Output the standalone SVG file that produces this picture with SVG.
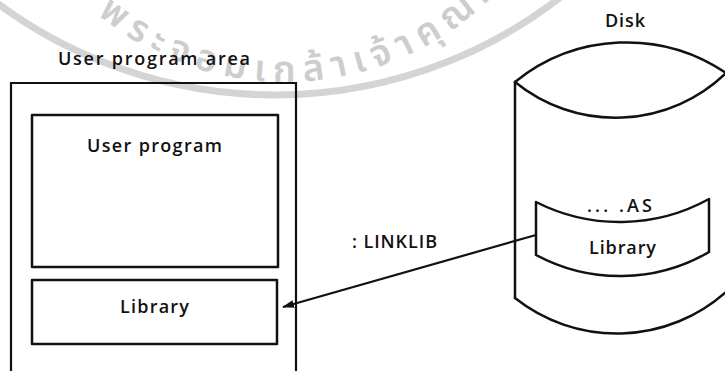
<svg xmlns="http://www.w3.org/2000/svg" width="725" height="371" viewBox="0 0 725 371">
  <style>
    .lbl { font-family: "Open Sans", "Liberation Sans", sans-serif; font-size: 18px; font-weight: 600; fill: #111; }
    .box { fill: none; stroke: #111; stroke-width: 2.5; stroke-linejoin: round; }
    .edge { fill: none; stroke: #111; stroke-width: 2.5; stroke-linecap: round; }
    .seal { fill: none; stroke: #d4d4d4; stroke-width: 7; }
    .sealtext { font-family: "Noto Sans Thai", "Noto Sans", "DejaVu Sans", sans-serif; font-size: 37px; font-weight: 600; fill: #cdcdcd; letter-spacing: 8px; }
  </style>
  <defs>
    <marker id="arrow" viewBox="0 0 12 8" refX="11" refY="4" markerWidth="12" markerHeight="8" markerUnits="userSpaceOnUse" orient="auto">
      <path d="M0,0 L12,4 L0,8 Z" fill="#111"/>
    </marker>
    <!-- lower half of the seal's lettering circle, centre (285,-212) -->
    <path id="sealArc" d="M-9,-212 A294,294 0 0 0 579,-212"/>
  </defs>

  <!-- faint seal in the background -->
  <g id="seal">
    <circle class="seal" cx="275" cy="-370" r="465"/>
    <text class="sealtext"><textPath href="#sealArc" startOffset="258">พระจอมเกล้าเจ้าคุณทหารลาดกระบัง</textPath></text>
  </g>

  <!-- memory layout -->
  <g id="user-program-area">
    <text class="lbl" x="58" y="65" textLength="192" lengthAdjust="spacing">User program area</text>
    <path d="M11,372 V83 H296 V372" fill="none" stroke="#111" stroke-width="2.2"/>
  </g>
  <g id="user-program">
    <rect class="box" x="32" y="115" width="246" height="152"/>
    <text class="lbl" x="87" y="152" textLength="135" lengthAdjust="spacing">User program</text>
  </g>
  <g id="library-loaded">
    <rect class="box" x="32" y="280" width="245" height="64"/>
    <text class="lbl" x="120" y="313" textLength="69" lengthAdjust="spacing">Library</text>
  </g>

  <!-- disk drum -->
  <g id="disk">
    <text class="lbl" x="605" y="27" textLength="40" lengthAdjust="spacing">Disk</text>
    <path class="edge" d="M515,82 A177,177 0 0 1 726,73"/>
    <path class="edge" d="M515,82 A159,159 0 0 0 726,73"/>
    <path class="edge" d="M515,82 V298"/>
    <path class="edge" d="M515,298 A164,164 0 0 0 726,292"/>
  </g>
  <g id="library-file">
    <path class="box" d="M536,202 A185,185 0 0 0 709,199 L709,252 A177,177 0 0 1 536,255 Z"/>
    <text class="lbl" x="587" y="212" textLength="65" lengthAdjust="spacing">... .AS</text>
    <text class="lbl" x="589" y="254" textLength="67" lengthAdjust="spacing">Library</text>
  </g>

  <!-- link step -->
  <g id="connectors">
    <line x1="536" y1="235" x2="283" y2="307" stroke="#111" stroke-width="2.2" marker-end="url(#arrow)"/>
    <text class="lbl" x="352" y="248" textLength="85" lengthAdjust="spacing">: LINKLIB</text>
  </g>
</svg>
